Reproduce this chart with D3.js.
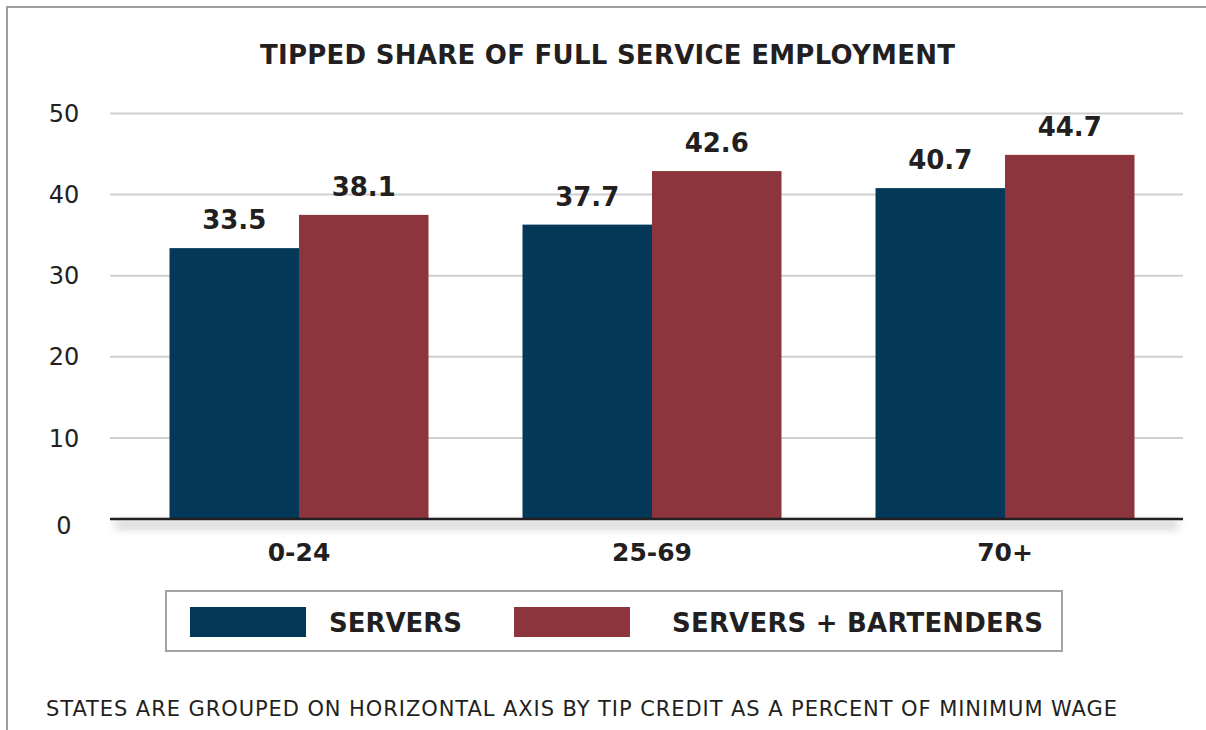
<!DOCTYPE html>
<html>
<head>
<meta charset="utf-8">
<script src="https://cdn.jsdelivr.net/npm/d3@7"></script>
<style>
  body { margin: 0; background: #fff; }
  svg { display: block; }
  text { font-family: "DejaVu Sans", sans-serif; fill: #231f20; }
</style>
</head>
<body>
<div id="chart"></div>
<script>
// tipped share chart

var categories = ["0-24", "25-69", "70+"];
var seriesNames = ["SERVERS", "SERVERS + BARTENDERS"];
// bar heights as drawn, and the labels printed above them
var servers = [33.4, 36.3, 40.8];
var bartenders = [37.5, 42.9, 44.9];
var serverLabels = ["33.5", "37.7", "40.7"];
var bartenderLabels = ["38.1", "42.6", "44.7"];
var yTicks = [0, 10, 20, 30, 40, 50];

var title = "TIPPED SHARE OF FULL SERVICE EMPLOYMENT";
var note = "STATES ARE GROUPED ON HORIZONTAL AXIS BY TIP CREDIT AS A PERCENT OF MINIMUM WAGE";

var width = 1206, height = 730;
var colors = ["#033858", "#8c353d"];

var svg = d3.select("#chart").append("svg")
	.attr("width", width)
	.attr("height", height);

// frame (left + top only)
svg.append("path")
	.attr("d", "M7,730 L7,7 L1206,7")
	.attr("fill", "none")
	.attr("stroke", "#9c9c9e")
	.attr("stroke-width", 2);

var y = d3.scaleLinear().domain([0, 50]).range([519, 113.5]);
var x0 = d3.scaleBand().domain(categories).range([122.5, 1181.5]);
var x1 = d3.scaleBand().domain(seriesNames).range([0, x0.bandwidth()]).paddingOuter(0.363);

var rows = categories.map(function(c, i) {
	return {cat: c, vals: [
		{s: seriesNames[0], v: servers[i], lab: serverLabels[i]},
		{s: seriesNames[1], v: bartenders[i], lab: bartenderLabels[i]}
	]};
});

// gridlines
svg.append("g").selectAll("line")
	.data(yTicks.filter(function(d) { return d > 0; }))
	.enter().append("line")
	.attr("x1", 110).attr("x2", 1183)
	.attr("y1", function(d) { return y(d); })
	.attr("y2", function(d) { return y(d); })
	.attr("stroke", "#cfcfd0")
	.attr("stroke-width", 2);

// y labels
svg.append("g").selectAll("text")
	.data(yTicks)
	.enter().append("text")
	.attr("x", 64)
	.attr("y", function(d) { return y(d) + (d === 0 ? 6 : 0); })
	.attr("dy", "0.36em")
	.attr("text-anchor", "middle")
	.style("font-size", "24px")
	.text(function(d) { return d; });

// shadow under axis
var defs = svg.append("defs");
defs.append("filter").attr("id", "blur")
	.attr("x", "-5%").attr("y", "-100%").attr("width", "110%").attr("height", "300%")
	.append("feGaussianBlur").attr("stdDeviation", 4);
svg.append("rect")
	.attr("x", 115).attr("y", 521)
	.attr("width", 1063).attr("height", 8)
	.attr("fill", "#bdbdbd")
	.attr("opacity", 0.7)
	.attr("filter", "url(#blur)");

// bars
var group = svg.append("g").selectAll("g")
	.data(rows)
	.enter().append("g")
	.attr("transform", function(d) { return "translate(" + x0(d.cat) + ",0)"; });

group.selectAll("rect")
	.data(function(d) { return d.vals; })
	.enter().append("rect")
	.attr("x", function(d) { return x1(d.s); })
	.attr("y", function(d) { return y(d.v); })
	.attr("width", x1.bandwidth())
	.attr("height", function(d) { return y(0) - y(d.v); })
	.attr("fill", function(d, i) { return colors[i]; });

group.selectAll("text")
	.data(function(d) { return d.vals; })
	.enter().append("text")
	.attr("x", function(d) { return x1(d.s) + x1.bandwidth() / 2; })
	.attr("y", function(d) { return y(d.v) - 19; })
	.attr("text-anchor", "middle")
	.style("font-size", "26px")
	.style("font-weight", "bold")
	.text(function(d) { return d.lab; });

// axis line
svg.append("line")
	.attr("x1", 110).attr("x2", 1183)
	.attr("y1", 519).attr("y2", 519)
	.attr("stroke", "#231f20")
	.attr("stroke-width", 2.5);

// x labels
svg.append("g").selectAll("text")
	.data(categories)
	.enter().append("text")
	.attr("x", function(d) { return x0(d) + x0.bandwidth() / 2; })
	.attr("y", 561)
	.attr("text-anchor", "middle")
	.style("font-size", "25px")
	.style("font-weight", "bold")
	.text(function(d) { return d; });

// title
svg.append("text")
	.attr("x", 260).attr("y", 64)
	.attr("textLength", 695)
	.attr("lengthAdjust", "spacing")
	.style("font-size", "26px")
	.style("font-weight", "bold")
	.text(title);

// legend
svg.append("rect")
	.attr("x", 166).attr("y", 591)
	.attr("width", 896).attr("height", 60)
	.attr("fill", "none")
	.attr("stroke", "#a3a3a5")
	.attr("stroke-width", 2);

var legX = [190, 514];
var legTextX = [329, 672];
var legTextW = [133, 371];
seriesNames.forEach(function(s, i) {
	svg.append("rect")
		.attr("x", legX[i]).attr("y", 607)
		.attr("width", 116).attr("height", 30)
		.attr("fill", colors[i]);
	svg.append("text")
		.attr("x", legTextX[i]).attr("y", 632)
		.attr("textLength", legTextW[i])
		.attr("lengthAdjust", "spacing")
		.style("font-size", "26px")
		.style("font-weight", "bold")
		.text(s);
});

// footnote
svg.append("text")
	.attr("x", 46).attr("y", 716)
	.attr("textLength", 1071)
	.attr("lengthAdjust", "spacing")
	.style("font-size", "21px")
	.text(note);
</script>
</body>
</html>
